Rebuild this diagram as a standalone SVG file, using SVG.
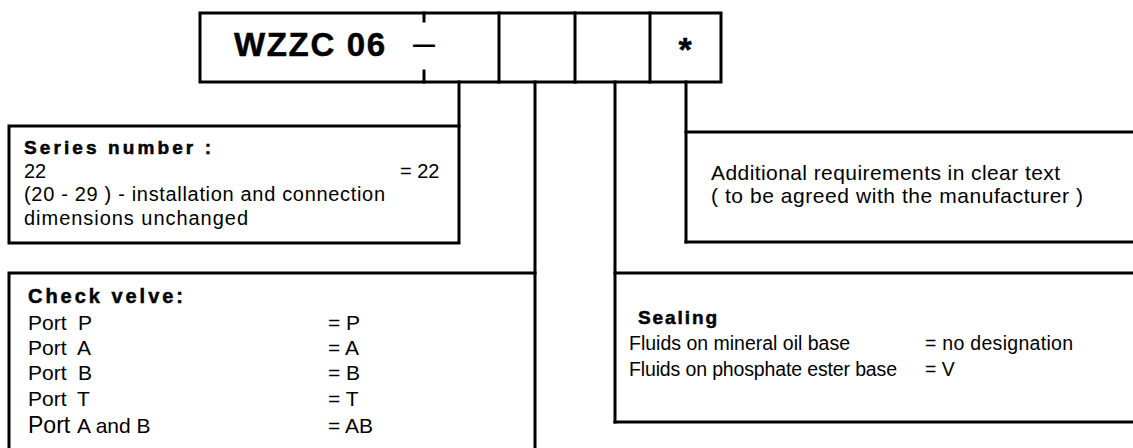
<svg xmlns="http://www.w3.org/2000/svg" width="1133" height="448" viewBox="0 0 1133 448">
<style>
.ln{stroke:#000;stroke-width:3;fill:none;stroke-linecap:square}
.t{font-family:"Liberation Sans",Arial,sans-serif;fill:#000}
.b{font-weight:bold;stroke:#000;stroke-width:0.5}
.r{font-size:20px}
.p{font-size:21px}
</style>
<rect width="1133" height="448" fill="#fff"/>
<g id="code">
<rect class="ln" x="200" y="13" width="521" height="69"/>
<line class="ln" x1="499" y1="13" x2="499" y2="82"/>
<line class="ln" x1="575" y1="13" x2="575" y2="82"/>
<line class="ln" x1="650" y1="13" x2="650" y2="82"/>
<line class="ln" x1="424" y1="13" x2="424" y2="21"/>
<line class="ln" x1="424" y1="71" x2="424" y2="82"/>
<text class="t b" x="234" y="56" font-size="33" stroke-width="1" textLength="151">WZZC 06</text>
<text class="t" x="413" y="55" font-size="36" textLength="22" lengthAdjust="spacingAndGlyphs">–</text>
<text class="t b" x="685" y="61" font-size="34" text-anchor="middle">*</text>
</g>
<g id="connectors">
<line class="ln" x1="459" y1="82" x2="459" y2="126"/>
<line class="ln" x1="535" y1="82" x2="535" y2="448"/>
<line class="ln" x1="615" y1="82" x2="615" y2="422"/>
<line class="ln" x1="686" y1="82" x2="686" y2="242"/>
</g>
<g id="series">
<rect class="ln" x="9" y="126" width="450" height="117"/>
<text class="t b" x="24" y="154" font-size="19" textLength="187">Series number :</text>
<text class="t r" x="24" y="178">22</text>
<text class="t r" x="400" y="178">= 22</text>
<text class="t r" x="24" y="201" textLength="361">(20 - 29 ) - installation and connection</text>
<text class="t r" x="24" y="225" textLength="224">dimensions unchanged</text>
</g>
<g id="check">
<polyline class="ln" points="9,450 9,273 535,273"/>
<text class="t b" x="28" y="303" font-size="20" stroke-width="1" textLength="155">Check  velve:</text>
<text class="t p" x="28" y="330">Port<tspan x="78">P</tspan></text>
<text class="t p" x="28" y="355">Port<tspan x="77">A</tspan></text>
<text class="t p" x="28" y="380">Port<tspan x="78">B</tspan></text>
<text class="t p" x="28" y="406">Port<tspan x="77">T</tspan></text>
<text class="t" font-size="21" x="28" y="433"><tspan font-size="23">Port</tspan><tspan x="77">A and B</tspan></text>
<text class="t p" x="328" y="330">= P</text>
<text class="t p" x="328" y="355">= A</text>
<text class="t p" x="328" y="380">= B</text>
<text class="t p" x="328" y="406">= T</text>
<text class="t p" x="328" y="433">= AB</text>
</g>
<g id="sealing">
<polyline class="ln" points="1135,273 615,273"/>
<polyline class="ln" points="615,422 1135,422"/>
<text class="t b" x="638" y="324" font-size="19" textLength="79">Sealing</text>
<text class="t" font-size="19.5" x="629" y="350" textLength="221">Fluids on mineral oil base</text>
<text class="t" font-size="19.5" x="629" y="376" textLength="268">Fluids on phosphate ester base</text>
<text class="t" font-size="19.5" x="925" y="350" textLength="148">= no designation</text>
<text class="t" font-size="19.5" x="925" y="376">= V</text>
</g>
<g id="additional">
<line class="ln" x1="686" y1="132" x2="1135" y2="132"/>
<line class="ln" x1="686" y1="242" x2="1135" y2="242"/>
<text class="t" font-size="21" x="711" y="180" textLength="349">Additional requirements in clear text</text>
<text class="t" font-size="21" x="711" y="203" textLength="372">( to be agreed with the manufacturer )</text>
</g>
</svg>
